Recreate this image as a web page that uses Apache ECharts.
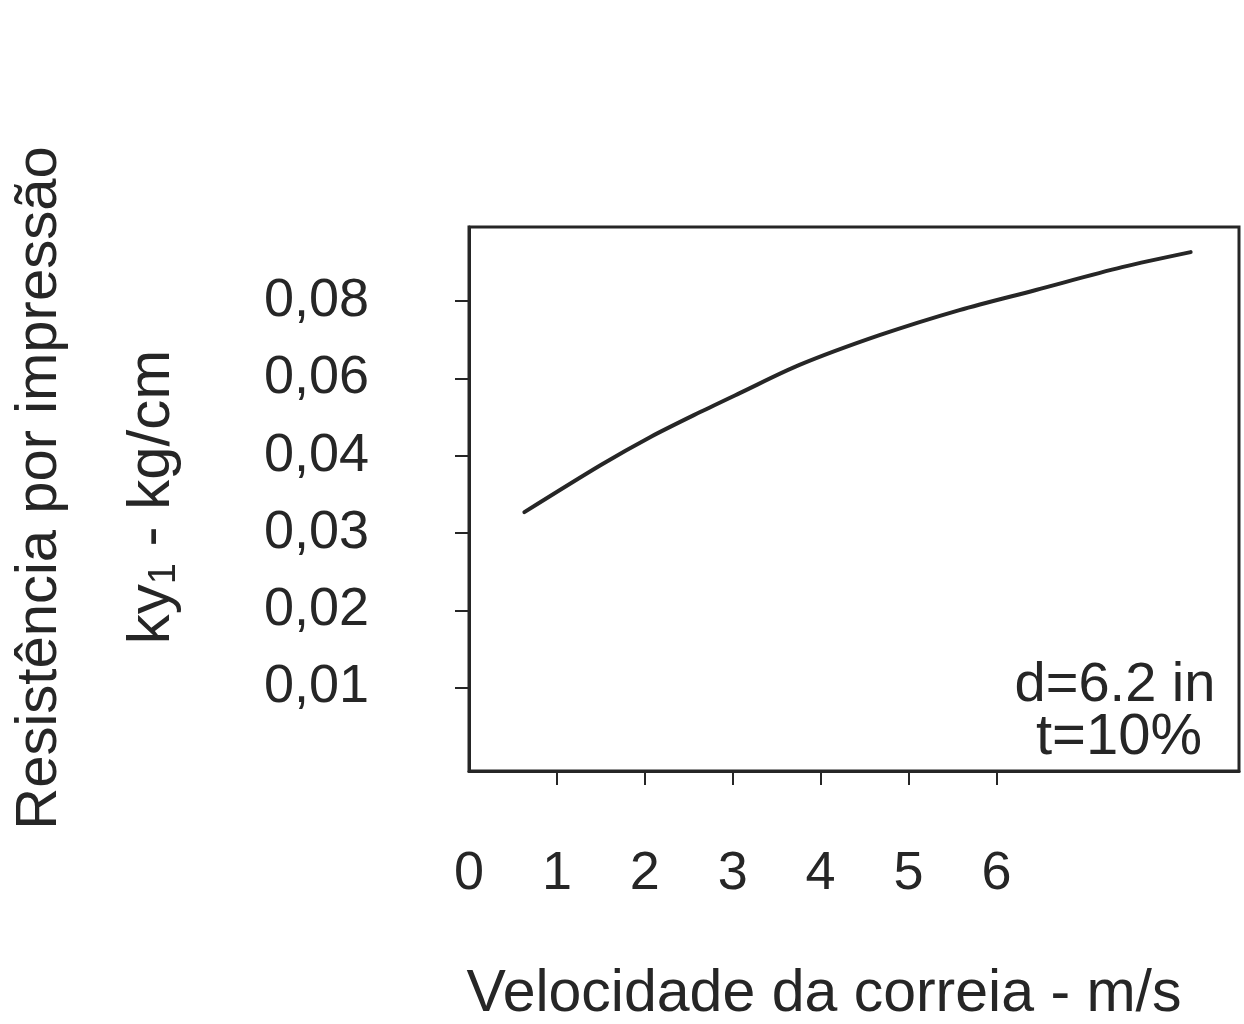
<!DOCTYPE html>
<html>
<head>
<meta charset="utf-8">
<script src="https://cdn.jsdelivr.net/npm/echarts@6/dist/echarts.min.js"></script>
<style>
html,body{margin:0;padding:0;background:#fff;}
#chart{width:1244px;height:1024px;}
</style>
</head>
<body>
<div id="chart"></div>
<script>
// Data
const velocity = [0.63, 1.50, 2.06, 2.63, 3.08, 3.76, 4.67, 5.58, 6.45, 7.43, 8.21];
const ky1 = [0.0327, 0.0388, 0.0448, 0.0513, 0.0562, 0.0635, 0.0712, 0.0777, 0.0829, 0.0888, 0.0927];
const yTickValues = [0.01, 0.02, 0.03, 0.04, 0.06, 0.08];
const yTickLabels = ['0,01', '0,02', '0,03', '0,04', '0,06', '0,08'];
const xTickValues = [0, 1, 2, 3, 4, 5, 6];
const xTickLabels = ['0', '1', '2', '3', '4', '5', '6'];

// The y-axis of the original is drawn with equally spaced labels (non-linear in value):
// map a value to its position on that label scale (piecewise linear).
function toIndex(v) {
  const t = yTickValues;
  let i = 0;
  if (v <= t[0]) i = 0;
  else if (v >= t[t.length - 1]) i = t.length - 2;
  else { while (!(v >= t[i] && v <= t[i + 1])) i++; }
  return (i + 1) + (v - t[i]) / (t[i + 1] - t[i]);
}
const yIdxTicks = yTickValues.map((v, i) => i + 1);

const FONT = 'Liberation Sans';
const INK = '#262626';

const chart = echarts.init(document.getElementById('chart'));
chart.setOption({
  backgroundColor: '#ffffff',
  animation: false,
  grid: {
    left: 469, top: 227, width: 770, height: 544,
    show: true, borderColor: INK, borderWidth: 3, backgroundColor: 'transparent'
  },
  xAxis: {
    type: 'value', min: 0, max: 8.76,
    axisLine: { show: true, onZero: false, lineStyle: { color: INK, width: 3 } },
    axisTick: { show: true, inside: false, length: 14, customValues: xTickValues.slice(1), lineStyle: { color: INK, width: 2 } },
    axisLabel: {
      customValues: xTickValues,
      formatter: (v) => xTickLabels[xTickValues.indexOf(v)] ?? '',
      margin: 76, fontFamily: FONT, fontSize: 54, color: INK
    },
    splitLine: { show: false }
  },
  yAxis: {
    type: 'value', min: -0.08, max: 6.96,
    axisLine: { show: true, onZero: false, lineStyle: { color: INK, width: 3 } },
    axisTick: { show: true, inside: false, length: 14, customValues: yIdxTicks, lineStyle: { color: INK, width: 2 } },
    axisLabel: {
      customValues: yIdxTicks,
      formatter: (v) => yTickLabels[Math.round(v) - 1] ?? '',
      margin: 100, fontFamily: FONT, fontSize: 54, color: INK
    },
    splitLine: { show: false }
  },
  series: [{
    type: 'line',
    data: velocity.map((x, i) => [x, toIndex(ky1[i])]),
    smooth: 0.3,
    symbol: 'none',
    lineStyle: { color: INK, width: 4, cap: 'round' }
  }],
  graphic: [
    {
      type: 'text', x: 40, y: 488, rotation: Math.PI / 2,
      style: { text: 'Resistência por impressão', font: '58px "Liberation Sans"', fill: INK, align: 'center', verticalAlign: 'middle' }
    },
    {
      type: 'text', x: 152, y: 497, rotation: Math.PI / 2,
      style: {
        text: '{n|ky}{s|1}{n| - kg/cm}',
        align: 'center', verticalAlign: 'middle', fill: INK,
        rich: {
          n: { fontFamily: FONT, fontSize: 60, fill: INK, color: INK },
          s: { fontFamily: FONT, fontSize: 38, fill: INK, color: INK, padding: [26, 0, 0, 0] }
        }
      }
    },
    {
      type: 'text', x: 1115, y: 686,
      style: { text: 'd=6.2 in', font: '56px "Liberation Sans"', fill: INK, align: 'center', verticalAlign: 'middle' }
    },
    {
      type: 'text', x: 1119, y: 738,
      style: { text: 't=10%', font: '58px "Liberation Sans"', fill: INK, align: 'center', verticalAlign: 'middle' }
    },
    {
      type: 'text', x: 824, y: 995,
      style: { text: 'Velocidade da correia - m/s', font: '59px "Liberation Sans"', fill: INK, align: 'center', verticalAlign: 'middle' }
    }
  ]
});
</script>
</body>
</html>
